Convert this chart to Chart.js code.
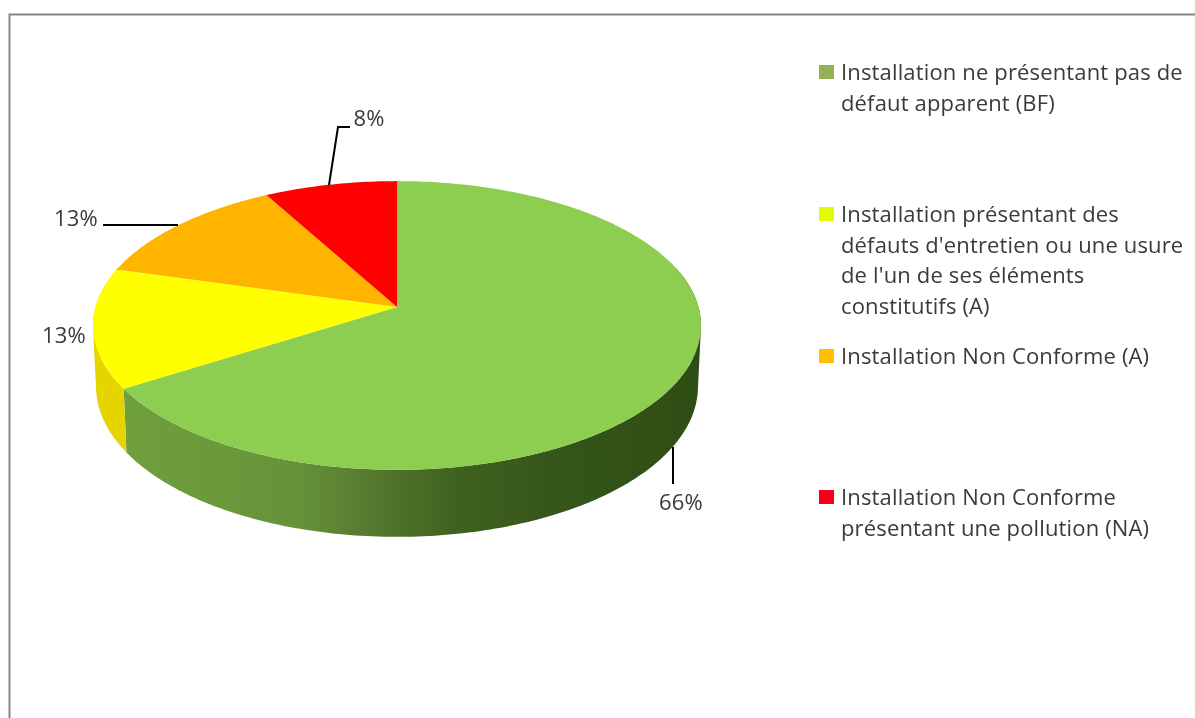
<!DOCTYPE html>
<html lang="fr">
<head>
<meta charset="utf-8">
<title>Conformité des installations</title>
<script src="https://cdn.jsdelivr.net/npm/chart.js@4"></script>
<style>
    html, body { margin: 0; padding: 0; background: #ffffff; }
    canvas { display: block; }
</style>
</head>
<body>
<canvas id="graficaPie" width="1195" height="718"></canvas>
<script>
const categories = [
    ['Installation ne présentant pas de', 'défaut apparent (BF)'],
    ['Installation présentant des', "défauts d'entretien ou une usure", "de l'un de ses éléments", 'constitutifs (A)'],
    ['Installation Non Conforme (A)'],
    ['Installation Non Conforme', 'présentant une pollution (NA)']
];
const values = [66, 13.4, 12.6, 8];
const sliceColors = ['#8dce50', '#ffff00', '#ffb400', '#ff0000'];
const wallColors = ['#4f7a28', '#e6d400', '#cc8f00', '#cc0000'];
const swatchColors = ['#93b256', '#e4fb00', '#ffbe00', '#f5001a'];

// where the labels and legend sit in the picture
const valueLabels = [
    { x: 681, y: 510, line: [[673, 447], [673, 484]] },
    { x: 64, y: 343, line: null },
    { x: 76, y: 226, line: [[103, 225], [178, 225]] },
    { x: 369, y: 126, line: [[329, 185], [338, 127], [350, 127]] }
];
const legendY = [72, 214, 356, 497];

// tilted disc: camera perspective on a circle, then a lower face for the thickness
const cx = 397, cy = 307, rx = 301.5, ry = 142, k = 0.128;

function top3d(a) {
    const u = Math.cos(a), v = Math.sin(a), d = 1 - k * v;
    return [cx + rx * u / d, cy + ry * v / d];
}

function bottom3d(a) {
    const p = top3d(a);
    return [cx + (p[0] - cx) * 0.99, p[1] + 60 + 7 * Math.sin(a)];
}

function steps(arc) {
    const n = Math.max(4, Math.ceil((arc.endAngle - arc.startAngle) * 60));
    const out = [];
    for (let i = 0; i <= n; i++) {
        out.push(arc.startAngle + (arc.endAngle - arc.startAngle) * i / n);
    }
    return out;
}

function signedArea(q) {
    let s = 0;
    q.forEach(function (p, i) {
        const n = q[(i + 1) % q.length];
        s += p[0] * n[1] - n[0] * p[1];
    });
    return s;
}

const disc3d = {
    id: 'disc3d',
    beforeDatasetDraw(chart) {
        const ctx = chart.ctx;
        const arcs = chart.getDatasetMeta(0).data;
        ctx.save();

        const wallGreen = ctx.createLinearGradient(125, 0, 700, 0);
        wallGreen.addColorStop(0, '#6fa03c');
        wallGreen.addColorStop(0.3, '#66923a');
        wallGreen.addColorStop(0.42, '#567a2f');
        wallGreen.addColorStop(0.58, '#3f611e');
        wallGreen.addColorStop(0.75, '#35561a');
        wallGreen.addColorStop(1, '#2e4d14');

        // only the front of the wall is seen, one path per slice so no seams show
        arcs.forEach(function (arc, i) {
            const angles = steps(arc).filter(function (a) { return Math.sin(a) > -0.3; });
            if (angles.length < 2) return;
            ctx.beginPath();
            for (let j = 0; j < angles.length - 1; j++) {
                const q = [top3d(angles[j]), top3d(angles[j + 1]), bottom3d(angles[j + 1]), bottom3d(angles[j])];
                // same turning direction for all quads, or nonzero fill cancels them at the sides
                if (signedArea(q) < 0) q.reverse();
                q.forEach(function (p, m) {
                    if (m === 0) ctx.moveTo(p[0], p[1]); else ctx.lineTo(p[0], p[1]);
                });
                ctx.closePath();
            }
            ctx.fillStyle = i === 0 ? wallGreen : wallColors[i];
            ctx.fill();
        });

        arcs.forEach(function (arc, i) {
            ctx.beginPath();
            ctx.moveTo(cx, cy);
            steps(arc).forEach(function (a) {
                const p = top3d(a);
                ctx.lineTo(p[0], p[1]);
            });
            ctx.closePath();
            ctx.fillStyle = sliceColors[i];
            ctx.fill();
        });

        ctx.restore();
        return false;
    },
    afterDraw(chart) {
        const ctx = chart.ctx;
        ctx.save();

        // frame, only top and left are there
        ctx.strokeStyle = '#858585';
        ctx.lineWidth = 2;
        ctx.beginPath();
        ctx.moveTo(9.5, 718);
        ctx.lineTo(9.5, 14.5);
        ctx.lineTo(1195, 14.5);
        ctx.stroke();

        // percentages
        ctx.font = '22px "Open Sans"';
        ctx.letterSpacing = '0.15px';
        ctx.fillStyle = '#3a3a3a';
        ctx.textAlign = 'center';
        ctx.textBaseline = 'alphabetic';
        const total = values.reduce(function (a, b) { return a + b; }, 0);
        values.forEach(function (v, i) {
            const pos = valueLabels[i];
            ctx.fillText(Math.round(v / total * 100) + '%', pos.x, pos.y);
            if (pos.line) {
                ctx.strokeStyle = '#000000';
                ctx.lineWidth = 2;
                ctx.beginPath();
                pos.line.forEach(function (p, j) {
                    if (j === 0) ctx.moveTo(p[0], p[1]); else ctx.lineTo(p[0], p[1]);
                });
                ctx.stroke();
            }
        });

        // legend
        ctx.textAlign = 'left';
        categories.forEach(function (lines, i) {
            ctx.fillStyle = swatchColors[i];
            ctx.fillRect(819, legendY[i] - 7, 15, 14);
            ctx.fillStyle = '#3a3a3a';
            lines.forEach(function (text, j) {
                ctx.fillText(text, 841, legendY[i] + 8 + j * 30.6);
            });
        });

        ctx.restore();
    }
};

new Chart(document.getElementById('graficaPie'), {
    type: 'pie',
    data: {
        labels: categories,
        datasets: [{
            data: values,
            backgroundColor: sliceColors,
            borderWidth: 0
        }]
    },
    options: {
        responsive: false,
        animation: false,
        plugins: {
            legend: { display: false },
            tooltip: { enabled: false }
        }
    },
    plugins: [disc3d]
});
</script>
</body>
</html>
